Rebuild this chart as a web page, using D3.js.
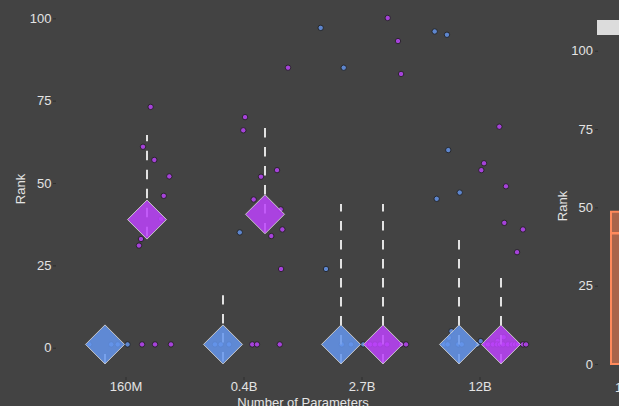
<!DOCTYPE html>
<html>
<head>
<meta charset="utf-8">
<script src="https://cdn.jsdelivr.net/npm/d3@7"></script>
<style>
  html, body { margin: 0; padding: 0; background: #434343; }
  svg { display: block; }
  text { font-family: "Liberation Sans", Arial, sans-serif; }
</style>
</head>
<body>
<svg id="chart" width="619" height="406"></svg>
<script>
// Model sizes on the x axis
const categories = ["160M", "0.4B", "2.7B", "12B"];
const seriesNames = ["base", "tuned"];
const seriesColors = ["#6495ed", "#bc42fb"];

// Median rank per model size (diamonds)
const medianBase  = [1, 1, 1, 1];
const medianTuned = [38.9, 40.5, 1, 1];

// Dashed whisker extent per model size
const whiskerLowBase   = [-4.8, -4.2, -4.8, -4.8];
const whiskerHighBase  = [0, 15.9, 43.6, 33.6];
const whiskerLowTuned  = [33.8, 35.0, -4.8, -4.8];
const whiskerHighTuned = [64.6, 67.3, 43.6, 21.2];

// Individual ranks: [category, rank, jitter (fraction of category step)]
const pointsBase = [
  ["160M", 1, -0.133], ["160M", 1, 0.053], ["160M", 1, 0.108], ["160M", 1, 0.191],
  ["0.4B", 1, -0.068], ["0.4B", 1, -0.019], ["0.4B", 1, 0.051], ["0.4B", 35, 0.142],
  ["2.7B", 97.1, -0.172], ["2.7B", 85, 0.023], ["2.7B", 23.9, -0.127],
  ["2.7B", 1, 0.006], ["2.7B", 1, 0.085], ["2.7B", 1, 0.189],
  ["12B", 96, -0.206], ["12B", 95, -0.102], ["12B", 60, -0.091], ["12B", 47.1, 0.006],
  ["12B", 45.2, -0.189], ["12B", 5, -0.064], ["12B", 3, -0.085],
  ["12B", 1, -0.125], ["12B", 1, -0.096], ["12B", 1, -0.006], ["12B", 1, 0.023],
  ["12B", 1, 0.157], ["12B", 2, 0.184]
];
const pointsTuned = [
  ["160M", 73.1, 0.031], ["160M", 61, -0.034], ["160M", 57, 0.062], ["160M", 52, 0.189],
  ["160M", 46.1, 0.142], ["160M", 39.1, 0.119], ["160M", 33, -0.051], ["160M", 31, -0.068],
  ["160M", 1, -0.042], ["160M", 1, 0.068], ["160M", 1, 0.203],
  ["0.4B", 85, 0.195], ["0.4B", 70, -0.169], ["0.4B", 66, -0.184], ["0.4B", 53.9, 0.102],
  ["0.4B", 51.9, -0.034], ["0.4B", 45, -0.096], ["0.4B", 42, 0.133], ["0.4B", 35.9, 0.147],
  ["0.4B", 33.9, 0.053], ["0.4B", 23.9, 0.136],
  ["0.4B", 1, -0.108], ["0.4B", 1, -0.068], ["0.4B", 1, 0.125],
  ["2.7B", 100.1, 0.040], ["2.7B", 93.1, 0.127], ["2.7B", 83.1, 0.153],
  ["2.7B", 1, -0.136], ["2.7B", 1, -0.110], ["2.7B", 1, -0.068], ["2.7B", 1, -0.025],
  ["2.7B", 1, 0.034], ["2.7B", 1, 0.153], ["2.7B", 1, 0.195],
  ["12B", 67.1, -0.014], ["12B", 56, -0.144], ["12B", 53.9, -0.167], ["12B", 49, 0.042],
  ["12B", 37.9, 0.028], ["12B", 35.9, 0.186], ["12B", 29, 0.136],
  ["12B", 2, -0.028], ["12B", 3.2, 0.023],
  ["12B", 1, -0.136], ["12B", 1, -0.110], ["12B", 1, -0.068], ["12B", 1, -0.034],
  ["12B", 1, -0.008], ["12B", 1, 0.017], ["12B", 1, 0.059], ["12B", 1, 0.093],
  ["12B", 1, 0.119], ["12B", 1, 0.144], ["12B", 1, 0.186], ["12B", 1, 0.212]
];

// Second panel (partly in view): first box of its distribution
const panel2Categories = ["160M"];
const panel2BoxLow = [0];
const panel2BoxHigh = [48.6];
const panel2BoxMid = [41.7];
const yTicks = [0, 25, 50, 75, 100];

const svg = d3.select("#chart");
svg.append("rect").attr("width", 619).attr("height", 406).attr("fill", "#434343");

const textColor = "#e4e4e4";
const tickColor = "#2e2e2e";

const x = d3.scaleBand().domain(categories).range([67, 539]);
const y = d3.scaleLinear().domain([0, 100]).range([347.7, 18.3]);
const seriesShift = d3.scaleOrdinal().domain(seriesNames).range([-21, 21]);

const series = [
  { name: "base",  color: seriesColors[0], points: pointsBase,  median: medianBase,  low: whiskerLowBase,  high: whiskerHighBase },
  { name: "tuned", color: seriesColors[1], points: pointsTuned, median: medianTuned, low: whiskerLowTuned, high: whiskerHighTuned }
];
const center = (cat, name) => x(cat) + x.bandwidth() / 2 + seriesShift(name);

// Axes
const yAxis = svg.append("g")
  .attr("transform", "translate(56,0)")
  .call(d3.axisLeft(y).tickValues(yTicks).tickSize(3).tickPadding(1.5));
const xAxis = svg.append("g")
  .attr("transform", "translate(0,377)")
  .call(d3.axisBottom(x).tickSize(3).tickPadding(2));
[yAxis, xAxis].forEach(g => {
  g.select(".domain").remove();
  g.selectAll(".tick line").attr("stroke", tickColor);
  g.selectAll(".tick text").attr("fill", textColor).attr("font-size", 13)
    .attr("font-family", "'Liberation Sans', Arial, sans-serif");
});

svg.append("text")
  .attr("transform", "translate(25,189) rotate(-90)")
  .attr("text-anchor", "middle").attr("fill", textColor).attr("font-size", 13)
  .text("Rank");
svg.append("text")
  .attr("x", 303).attr("y", 406.5)
  .attr("text-anchor", "middle").attr("fill", textColor).attr("font-size", 13)
  .text("Number of Parameters");

// Points
series.forEach(s => {
  svg.append("g").selectAll("circle").data(s.points).join("circle")
    .attr("cx", d => center(d[0], s.name) + d[2] * x.step())
    .attr("cy", d => y(d[1]))
    .attr("r", 2.7)
    .attr("fill", s.color)
    .attr("fill-opacity", 0.82)
    .attr("stroke", "#222")
    .attr("stroke-width", 0.9);
});

// Dashed whiskers, drawn upward from the low end
series.forEach(s => {
  svg.append("g").selectAll("line").data(categories).join("line")
    .attr("x1", (c) => center(c, s.name))
    .attr("x2", (c) => center(c, s.name))
    .attr("y1", (c, i) => y(s.low[i]))
    .attr("y2", (c, i) => y(s.high[i]))
    .attr("stroke", "#e2e2e2")
    .attr("stroke-width", 2)
    .attr("stroke-dasharray", "9.5,9.5");
});

// Median diamonds
const half = 19.5;
series.forEach(s => {
  svg.append("g").selectAll("path").data(categories).join("path")
    .attr("d", (c, i) => {
      const cx = center(c, s.name), cy = y(s.median[i]);
      const p = d3.path();
      p.moveTo(cx, cy - half); p.lineTo(cx + half, cy);
      p.lineTo(cx, cy + half); p.lineTo(cx - half, cy); p.closePath();
      return p.toString();
    })
    .attr("fill", s.color)
    .attr("fill-opacity", 0.85)
    .attr("stroke", "#d0d0d0")
    .attr("stroke-opacity", 0.9)
    .attr("stroke-width", 1);
});

// Second panel
const y2 = d3.scaleLinear().domain([0, 100]).range([364, 50.7]);
const y2Axis = svg.append("g")
  .attr("transform", "translate(598,0)")
  .call(d3.axisLeft(y2).tickValues(yTicks).tickSize(3).tickPadding(2));
y2Axis.select(".domain").remove();
y2Axis.selectAll(".tick line").attr("stroke", tickColor);
y2Axis.selectAll(".tick text").attr("fill", textColor).attr("font-size", 13)
  .attr("font-family", "'Liberation Sans', Arial, sans-serif");

svg.append("text")
  .attr("transform", "translate(567,206) rotate(-90)")
  .attr("text-anchor", "middle").attr("fill", textColor).attr("font-size", 13)
  .text("Rank");

const x2 = d3.scaleBand().domain(panel2Categories).range([611, 655]);
svg.append("g").selectAll("rect").data(panel2Categories).join("rect")
  .attr("x", c => x2(c))
  .attr("y", (c, i) => y2(panel2BoxHigh[i]))
  .attr("width", x2.bandwidth())
  .attr("height", (c, i) => y2(panel2BoxLow[i]) - y2(panel2BoxHigh[i]))
  .attr("fill", "#ff7f50").attr("fill-opacity", 0.55)
  .attr("stroke", "#ff8a5c").attr("stroke-width", 2);
svg.append("g").selectAll("line").data(panel2Categories).join("line")
  .attr("x1", c => x2(c)).attr("x2", c => x2(c) + x2.bandwidth())
  .attr("y1", (c, i) => y2(panel2BoxMid[i])).attr("y2", (c, i) => y2(panel2BoxMid[i]))
  .attr("stroke", "#ff8a5c").attr("stroke-width", 2.5);
svg.append("g").selectAll("text").data(panel2Categories).join("text")
  .attr("x", 615).attr("y", 392)
  .attr("fill", textColor).attr("font-size", 13)
  .text(c => c);

// Legend box of the second panel
svg.append("rect")
  .attr("x", 597).attr("y", 20).attr("width", 30).attr("height", 15)
  .attr("fill", "#dcdcdc");
</script>
</body>
</html>
